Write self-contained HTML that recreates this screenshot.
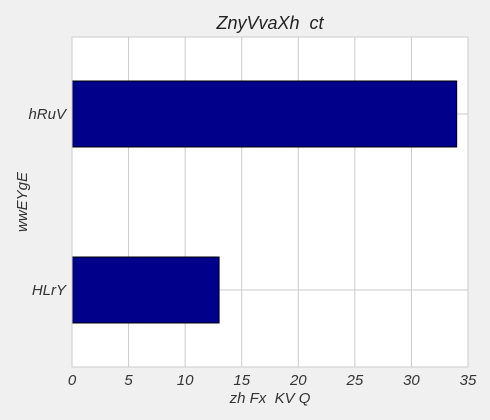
<!DOCTYPE html>
<html><head><meta charset="utf-8"><style>
body{margin:0;background:#f0f0f0;}
svg{display:block;font-family:"Liberation Sans",sans-serif;font-style:italic;}
text{white-space:pre;}
</style></head><body>
<svg width="490" height="420">
<rect width="490" height="420" fill="#f0f0f0"/>
<g id="plot"></g>
</svg>
<script>
const categories = ["HLrY", "hRuV"];
const values = [13, 34];
const xTicks = [0, 5, 10, 15, 20, 25, 30, 35];
const L=72,R=468,T=37,B=367;
const xMax=35;
function xs(v){return L+(v/xMax)*(R-L);}
function ys(i){return 290-i*176;}
const ns="http://www.w3.org/2000/svg";
const g=document.getElementById('plot');
function mk(t,a,txt){const e=document.createElementNS(ns,t);for(const k in a)e.setAttribute(k,a[k]);if(txt!==undefined)e.textContent=txt;g.appendChild(e);return e;}
let e=mk('rect',{x:L,y:T,width:R-L,height:B-T,fill:'#fff'});


xTicks.forEach(t=>{
 let l=mk('line',{x1:xs(t),x2:xs(t),y1:T,y2:B,stroke:'#cbcbcb','stroke-width':1});
 
 
 let tx=mk('text',{x:xs(t),y:385,'text-anchor':'middle','font-size':15,fill:'#333'},String(t));
 
 
});
categories.forEach((c,i)=>{
 let l=mk('line',{x1:L,x2:R,y1:ys(i),y2:ys(i),stroke:'#cbcbcb','stroke-width':1});
 
 
});
categories.forEach((c,i)=>{
 let b=mk('rect',{x:L,y:ys(i)-33,width:xs(values[i])-L,height:66,fill:'#00008b',stroke:'#000','stroke-width':1});
 
 
 let tx=mk('text',{x:66,y:ys(i)+5,'text-anchor':'end','font-size':15,fill:'#333'},c);
 
 
});
e=mk('rect',{x:L,y:T,width:R-L,height:B-T,fill:'none',stroke:'#cbcbcb'});


e=mk('text',{x:270,y:29,'text-anchor':'middle','font-size':18,fill:'#222'},'ZnyVvaXh  ct');


e=mk('text',{x:270,y:403,'text-anchor':'middle','font-size':15,fill:'#333'},'zh Fx  KV Q');


e=mk('text',{x:27,y:202,'text-anchor':'middle','font-size':15,fill:'#333',transform:'rotate(-90 27 202)'},'wwEYgE');


</script>
</body></html>
